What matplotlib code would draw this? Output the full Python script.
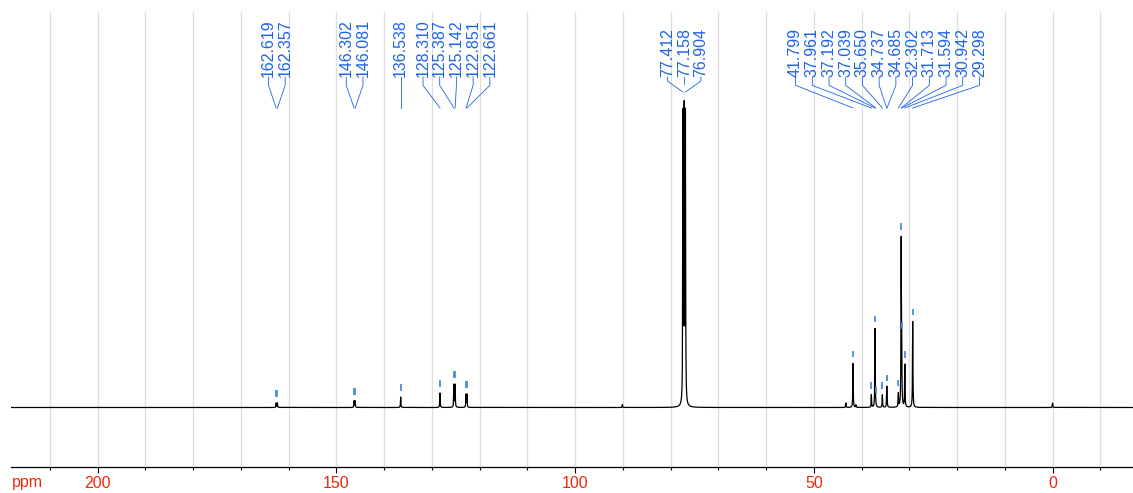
import numpy as np
import matplotlib
matplotlib.use("Agg")
import matplotlib.pyplot as plt

# Picked 13C signals (ppm) and apparent peak heights (arbitrary intensity units)
peak_ppm = [162.619, 162.357, 146.302, 146.081, 136.538, 128.310, 125.387, 125.142,
            122.851, 122.661, 77.412, 77.158, 76.904, 41.799, 37.961, 37.192, 37.039,
            35.650, 34.737, 34.685, 32.302, 31.713, 31.594, 30.942, 29.298]
peak_height = [4.5, 4.5, 6.5, 6.5, 10.5, 14.5, 22.6, 22.6, 12.7, 12.7, 286, 286, 286,
               44, 12.5, 79, 0.5, 12.5, 13.5, 13.5, 13.5, 164, 48, 42.5, 86]

# Small unlabelled signals
minor_ppm = [90.1, 43.3, 41.2, 0.0]
minor_height = [3.0, 4.5, 2.5, 4.5]

# Axis ticks
major_ticks = [200, 150, 100, 50, 0]
minor_ticks = list(range(210, -20, -10))
x_left, x_right = 218.16, -16.84

HWHM = 0.05          # Lorentzian half width (ppm)
LABEL_GAP = 3.5      # spacing between neighbouring peak labels (ppm)

LABEL_BLUE = "#1c63e8"
MARK_BLUE = "#4f8ae8"
AXIS_RED = "#f0280a"


def spectrum(x):
    y = np.zeros_like(x)
    for p, h in zip(peak_ppm + minor_ppm, peak_height + minor_height):
        y += h / (1.0 + ((x - p) / HWHM) ** 2)
    return y


def spread_labels(ppms, gap):
    """Cluster crowded labels and spread each cluster evenly around its mean."""
    order = sorted(ppms, reverse=True)
    groups = [[p] for p in order]

    def layout(g):
        c, n = np.mean(g), len(g)
        return [c + (n - 1) / 2 * gap - i * gap for i in range(n)]

    merged = True
    while merged:
        merged = False
        for i in range(len(groups) - 1):
            a, b = layout(groups[i]), layout(groups[i + 1])
            if a[-1] - b[0] < gap:
                groups[i] = groups[i] + groups[i + 1]
                del groups[i + 1]
                merged = True
                break
    pos = {}
    for g in groups:
        for p, lx in zip(g, layout(g)):
            pos[p] = lx
    return pos


W, H, DPI = 1133, 493, 100
fig = plt.figure(figsize=(W / DPI, H / DPI), dpi=DPI)
ax_left_px, ax_bottom_px, ax_top_px = 11, 467, 12
ax = fig.add_axes([ax_left_px / W, (H - ax_bottom_px) / H,
                   1 - ax_left_px / W, (ax_bottom_px - ax_top_px) / H])

baseline_px = 407.5
ax.set_xlim(x_left, x_right)
ax.set_ylim(-(ax_bottom_px - baseline_px), baseline_px - ax_top_px)

# spectrum trace
x = np.arange(x_right, x_left, 0.005)
y = spectrum(x)
ax.plot(x, y, color="black", lw=0.9, zorder=3)

# axis styling
for s in ("left", "right", "top"):
    ax.spines[s].set_visible(False)
ax.spines["bottom"].set_linewidth(0.9)
ax.set_yticks([])
ax.set_xticks(major_ticks)
ax.set_xticklabels([str(t) for t in major_ticks])
ax.set_xticks(minor_ticks, minor=True)
ax.tick_params(axis="x", which="major", direction="out", length=4.2, width=0.8,
               colors="black", labelcolor=AXIS_RED, labelsize=11.5, pad=2.0)
ax.tick_params(axis="x", which="minor", direction="out", length=2.2, width=0.8,
               colors="black")
for lbl in ax.get_xticklabels():
    lbl.set_fontfamily("Liberation Sans")
ax.grid(True, axis="x", which="both", color="#dedede", lw=0.9, zorder=0)
ax.set_axisbelow(True)

fig.text(11.5 / W, 1 - 486.5 / H, "ppm", color=AXIS_RED, fontsize=11.5,
         family="Liberation Sans", ha="left", va="baseline")

# peak labels with connector lines
trans = ax.get_xaxis_transform()


def frac(ypx):
    return (ax_bottom_px - ypx) / (ax_bottom_px - ax_top_px)


label_pos = spread_labels(peak_ppm, LABEL_GAP)
text_bottom_px = 77
for p in peak_ppm:
    lx = label_pos[p]
    ax.text(lx, frac(text_bottom_px), f"{p:.3f}", rotation=90, ha="center",
            va="bottom", color=LABEL_BLUE, fontsize=11.5, family="Liberation Sans",
            transform=trans)
    top_px = baseline_px - spectrum(np.array([p]))[0]
    end_px = min(108.0, top_px - 16.0)
    bend_px = text_bottom_px + 0.27 * (end_px - text_bottom_px)
    ax.plot([lx, lx, p], [frac(text_bottom_px), frac(bend_px), frac(end_px)],
            color=LABEL_BLUE, lw=0.6, transform=trans, clip_on=False, zorder=4)

# small peak markers just above each picked signal
for p in peak_ppm:
    s = spectrum(np.array([p]))[0]
    if s > 250:
        continue
    ax.plot([p, p], [s + 6, s + 12.5], color=MARK_BLUE, lw=1.3, zorder=4,
            solid_capstyle="butt")

fig.savefig("out.png", dpi=DPI)
